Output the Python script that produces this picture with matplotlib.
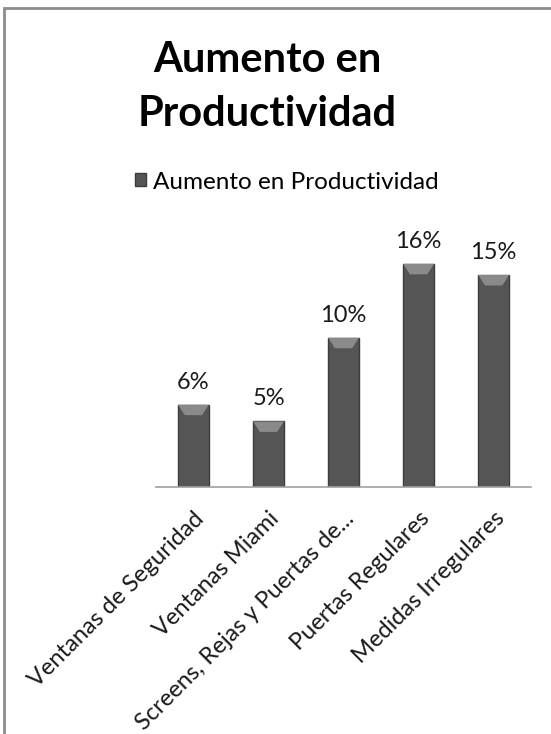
import numpy as np
import matplotlib
matplotlib.use('Agg')
import matplotlib.pyplot as plt
from matplotlib.patches import Polygon, Rectangle

plt.rcParams['font.family'] = ['Lato', 'DejaVu Sans']

categorias = ['Ventanas de Seguridad', 'Ventanas Miami', 'Screens, Rejas y Puertas de...',
              'Puertas Regulares', 'Medidas Irregulares']
valores = [0.059, 0.047, 0.107, 0.160, 0.152]
etiquetas = ['6%', '5%', '10%', '16%', '15%']
serie = 'Aumento en Productividad'

fig = plt.figure(figsize=(5.51, 7.34), dpi=100)
ax = fig.add_axes([0.283, 0.3365, 0.681, 0.342])

x = np.arange(len(categorias))
ancho = 0.41
bars = ax.bar(x, valores, width=ancho, color='#555555', edgecolor='#3c3c3c', linewidth=1.0,
              label=serie, zorder=2)

# bisel claro arriba de cada barra
bisel = 0.0075
for xi, v in zip(x, valores):
    pts = [(xi - ancho/2, v), (xi + ancho/2, v), (xi + ancho/2 - 0.09, v - bisel),
           (xi - ancho/2 + 0.09, v - bisel)]
    ax.add_patch(Polygon(pts, closed=True, facecolor='#8a8a8a', edgecolor='none', zorder=3))

for xi, v, t in zip(x, valores, etiquetas):
    ax.text(xi, v + 0.0115, t, ha='center', va='baseline', fontsize=17, color='#1a1a1a')

ax.set_xlim(-0.5, len(categorias) - 0.5)
ax.set_ylim(0, 0.18)
ax.set_yticks([])
for s in ['top', 'right', 'left']:
    ax.spines[s].set_visible(False)
ax.spines['bottom'].set_color('#a0a0a0')
ax.spines['bottom'].set_linewidth(1.2)
ax.set_xticks(x)
ax.set_xticklabels(categorias, rotation=45, ha='right', va='top', rotation_mode='anchor',
                   fontsize=17, color='#1a1a1a')
ax.tick_params(axis='x', length=0, pad=15)

fig.text(0.4855, 1 - 72/734, 'Aumento en', ha='center', va='baseline',
         fontsize=30, fontweight='bold')
fig.text(0.4855, 1 - 126/734, 'Productividad', ha='center', va='baseline',
         fontsize=30, fontweight='bold')

fig.legend(handles=[bars], labels=[serie], loc='center', bbox_to_anchor=(0.521, 0.752),
           frameon=False, fontsize=17.5, handlelength=0.45, handleheight=0.45, handletextpad=0.3)

fig.patches.append(Rectangle((0.007, -0.1), 1.2, 1.089, transform=fig.transFigure,
                             fill=False, edgecolor='#8c8c8c', linewidth=2.0))

fig.savefig('out.png', dpi=100)
